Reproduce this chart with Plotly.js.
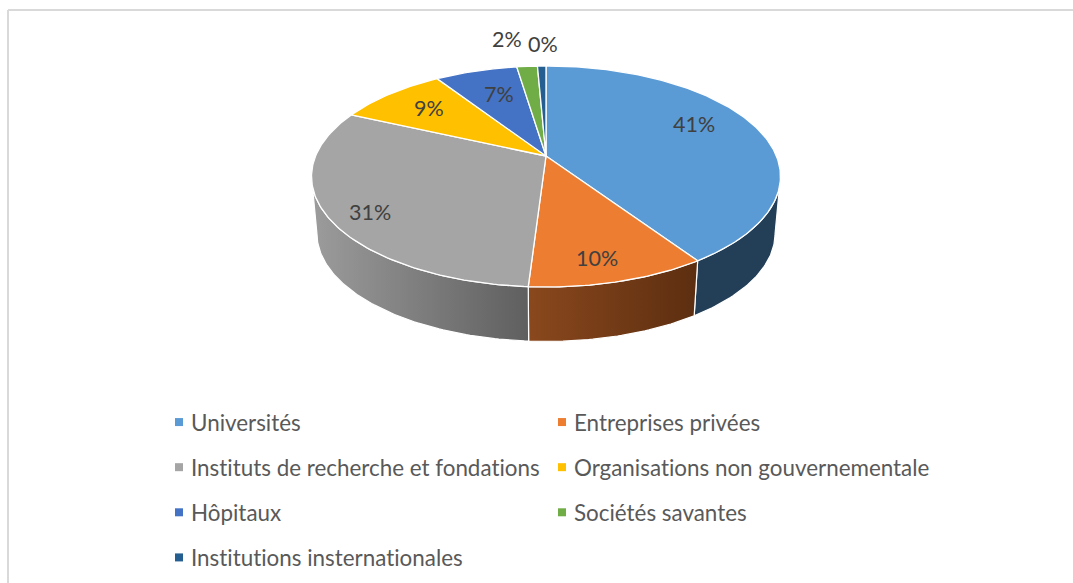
<!DOCTYPE html>
<html>
<head>
<meta charset="utf-8">
<script src="https://cdn.plot.ly/plotly-3.0.1.min.js"></script>
<style>html,body{margin:0;padding:0;background:#fff}#chart{width:1073px;height:583px}
svg text{font-variant-ligatures:none;font-feature-settings:"liga" 0}</style>
</head>
<body>
<div id="chart"></div>
<script>
// ---- data ----
const categories = ["Universités", "Entreprises privées", "Instituts de recherche et fondations",
  "Organisations non gouvernementale", "Hôpitaux", "Sociétés savantes", "Institutions insternationales"];
const shares = [40.6, 10.4, 30.8, 9.0, 6.8, 1.7, 0.7];
const shareLabels = ["41%", "10%", "31%", "9%", "7%", "2%", "0%"];

// ---- styles ----
const topColors = ["#5b9bd5", "#ed7d31", "#a5a5a5", "#ffc000", "#4472c4", "#70ad47", "#255e91"];
const wallGradients = [
  ["#233f58", "#233f58"], ["#8a481d", "#5c2e10"], ["#9c9c9c", "#5f5f5f"],
  ["#997300", "#997300"], ["#29447a", "#29447a"], ["#43682b", "#43682b"], ["#163857", "#163857"]];
const labelAnchors = [[694, 124], [597, 258], [370, 212], [429, 108], [499, 94], [507, 39], [543, 44]];
const legendColumn = [0, 1, 0, 1, 0, 1, 0];

// ---- perspective of the pie, in axis units ----
const apexX = 546, apexY = 156, halfW = 230.4, halfH = 106.7, tilt = 0.1855;
const wallDepth = 57, wallShrink = 0.977, centreY = 175;
// turns at which the rim reaches its right and left extremes: the wall is only seen between them
const rimRight = Math.acos(-tilt) / (2 * Math.PI), rimLeft = 1 - rimRight;

function project(turn) {
  const t = turn * 2 * Math.PI, sx = Math.sin(t), sy = -Math.cos(t), w = 1 - tilt * sy;
  return [apexX + halfW * sx / w, apexY + halfH * sy / w];
}
function projectLow(turn) {
  const p = project(turn);
  return [apexX + (p[0] - apexX) * wallShrink, centreY + wallDepth + (p[1] - centreY) * wallShrink];
}
function arc(fn, a, b) {
  const n = Math.max(8, Math.ceil((b - a) * 400)), pts = [];
  for (let i = 0; i <= n; i++) pts.push(fn(a + (b - a) * i / n));
  return pts;
}
const total = shares.reduce((s, v) => s + v, 0);
let run = 0;
const spans = shares.map(v => { const a = run / total; run += v; return [a, run / total]; });

const traces = [];
// legend entries
categories.forEach((name, i) => traces.push({
  type: "scatter", mode: "markers", name, x: [null], y: [null],
  marker: {symbol: "square", size: 8, color: topColors[i]},
  legend: legendColumn[i] ? "legend2" : "legend", legendgroup: "g" + i, showlegend: true, hoverinfo: "skip"
}));
// walls
spans.forEach(([a0, b0], i) => {
  const a = Math.max(a0, rimRight), b = Math.min(b0, rimLeft);
  if (b <= a) return;
  const top = arc(project, a, b), low = arc(projectLow, a, b).reverse(), pts = top.concat(low);
  pts.push(pts[0]);
  traces.push({
    type: "scatter", mode: "lines", x: pts.map(p => p[0]), y: pts.map(p => p[1]), showlegend: false,
    line: {color: "#ffffff", width: 1.2}, fill: "toself", hoverinfo: "skip",
    fillgradient: {type: "horizontal", colorscale: [[0, wallGradients[i][0]], [1, wallGradients[i][1]]]}
  });
});
// top faces
spans.forEach(([a, b], i) => {
  const pts = [[apexX, apexY]].concat(arc(project, a, b));
  pts.push([apexX, apexY]);
  traces.push({
    type: "scatter", mode: "lines", x: pts.map(p => p[0]), y: pts.map(p => p[1]), showlegend: false,
    line: {color: "#ffffff", width: 1.3}, fill: "toself", fillcolor: topColors[i], hoverinfo: "skip"
  });
});

const labelFont = {family: "Lato, sans-serif", size: 21.5, color: "#404040"};
const legendFont = {family: "Lato, sans-serif", size: 22.4, color: "#595959"};
const legendBase = {
  orientation: "v", xanchor: "left", yanchor: "top", bgcolor: "rgba(0,0,0,0)", borderwidth: 0,
  font: legendFont, tracegroupgap: 13, itemclick: false, itemdoubleclick: false
};
const layout = {
  width: 1073, height: 583, margin: {l: 0, r: 0, t: 0, b: 0, autoexpand: false},
  paper_bgcolor: "#ffffff", plot_bgcolor: "#ffffff", hovermode: false,
  xaxis: {range: [0, 1073], visible: false, fixedrange: true},
  yaxis: {range: [583, 0], visible: false, fixedrange: true},
  legend: Object.assign({x: 151 / 1073, y: 1 - 401 / 583}, legendBase),
  legend2: Object.assign({x: 534 / 1073, y: 1 - 401 / 583}, legendBase),
  annotations: shareLabels.map((text, i) => ({
    text, x: labelAnchors[i][0], y: labelAnchors[i][1], xref: "x", yref: "y",
    showarrow: false, font: labelFont, xanchor: "center", yanchor: "middle"
  })),
  shapes: [
    {type: "line", xref: "x", yref: "y", x0: 8, x1: 8, y0: 10, y1: 583, line: {color: "#d9d9d9", width: 2}},
    {type: "line", xref: "x", yref: "y", x0: 8, x1: 1073, y0: 10, y1: 10, line: {color: "#d9d9d9", width: 2}}
  ]
};
Plotly.newPlot("chart", traces, layout, {displayModeBar: false, staticPlot: true}).then(() => {
  document.querySelectorAll(".legendpoints").forEach(g => g.setAttribute("transform", "translate(8,0)"));
});
</script>
</body>
</html>
